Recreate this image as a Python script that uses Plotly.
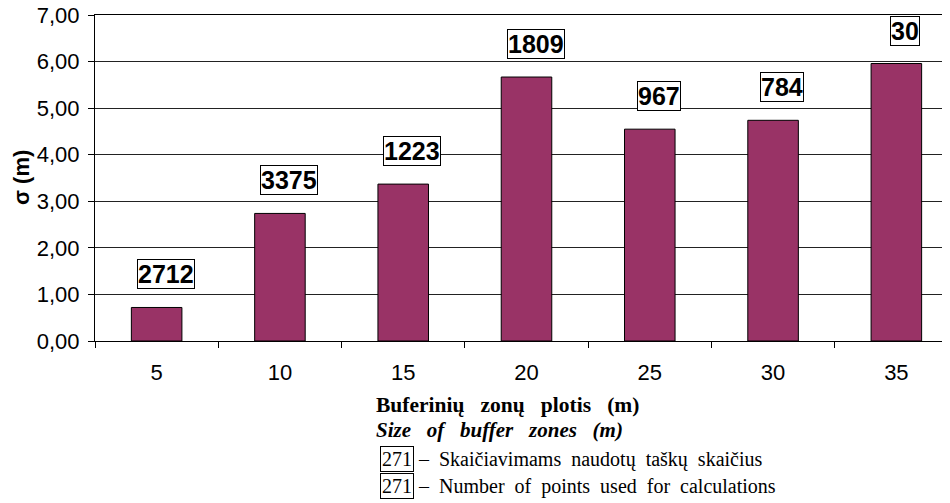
import plotly.graph_objects as go

categories = ["5", "10", "15", "20", "25", "30", "35"]
sigma_values = [0.72, 2.74, 3.37, 5.67, 4.55, 4.74, 5.96]
point_counts = ["2712", "3375", "1223", "1809", "967", "784", "30"]
y_tick_vals = [0, 1, 2, 3, 4, 5, 6, 7]
y_tick_text = ["0,00", "1,00", "2,00", "3,00", "4,00", "5,00", "6,00", "7,00"]

fig = go.Figure()
fig.add_trace(go.Bar(
    x=categories, y=sigma_values, width=0.41,
    marker=dict(color="#993366", line=dict(color="#000000", width=1)),
    hoverinfo="skip",
))

for i, (v, n) in enumerate(zip(sigma_values, point_counts)):
    fig.add_annotation(
        x=i, y=v, text="<b>%s</b>" % n, showarrow=False,
        xshift=9, yshift=33, yanchor="middle",
        font=dict(family="Liberation Sans, Arial", size=25, color="#000"),
        bgcolor="#ffffff", bordercolor="#000000", borderwidth=1, borderpad=0,
    )

serif = "Liberation Serif, Times New Roman"
sp3 = "\u00a0\u00a0 "
fig.add_annotation(xref="paper", yref="paper", x=0.478, y=-0.196, yanchor="middle",
                   text="<b>" + sp3.join(["Buferinių", "zonų", "plotis", "(m)"]) + "</b>",
                   showarrow=False, font=dict(family=serif, size=21.5, color="#000"))
fig.add_annotation(xref="paper", yref="paper", x=0.469, y=-0.273, yanchor="middle",
                   text="<b><i>" + sp3.join(["Size", "of", "buffer", "zones", "(m)"]) + "</i></b>",
                   showarrow=False, font=dict(family=serif, size=21, color="#000"))

sp2 = "\u00a0 "
for yy, words in [(-0.362, ["–", "Skaičiavimams", "naudotų", "taškų", "skaičius"]),
                  (-0.445, ["–", "Number", "of", "points", "used", "for", "calculations"])]:
    fig.add_annotation(xref="paper", yref="paper", x=0.330, y=yy, xanchor="left", yanchor="middle",
                       text="271", showarrow=False, bordercolor="#000", borderwidth=1, borderpad=1,
                       font=dict(family=serif, size=20, color="#000"))
    fig.add_annotation(xref="paper", yref="paper", x=0.372, y=yy, xanchor="left", yanchor="middle",
                       text=sp2.join(words), showarrow=False,
                       font=dict(family=serif, size=20, color="#000"))

fig.add_annotation(xref="paper", yref="paper", x=-0.0857, y=0.5, textangle=-90,
                   xanchor="center", yanchor="middle", showarrow=False,
                   text="<b>σ (m)</b>", font=dict(family="Liberation Sans, Arial", size=22, color="#000"))

fig.update_layout(
    width=950, height=503,
    margin=dict(l=87, r=0, t=7, b=170),
    paper_bgcolor="#ffffff", plot_bgcolor="#ffffff",
    showlegend=False,
    font=dict(family="Liberation Sans, Arial", size=22, color="#000"),
)
fig.update_xaxes(
    type="category", range=[-0.5, 6.5], automargin=False,
    showline=True, linecolor="#000", linewidth=1, mirror=True,
    ticks="outside", tickson="boundaries", ticklen=6, tickcolor="#000",
    showgrid=False, tickfont=dict(size=22), ticklabelstandoff=12,
)
fig.update_yaxes(
    range=[0, 7.002], tickvals=y_tick_vals, ticktext=y_tick_text, automargin=False,
    showline=True, linecolor="#000", linewidth=1,
    ticks="outside", ticklen=6, tickcolor="#000",
    showgrid=True, gridcolor="#222", gridwidth=1, zeroline=False,
    tickfont=dict(size=22), ticklabelstandoff=4, ticklabeloverflow="allow",
)

fig.write_html("out.html")
